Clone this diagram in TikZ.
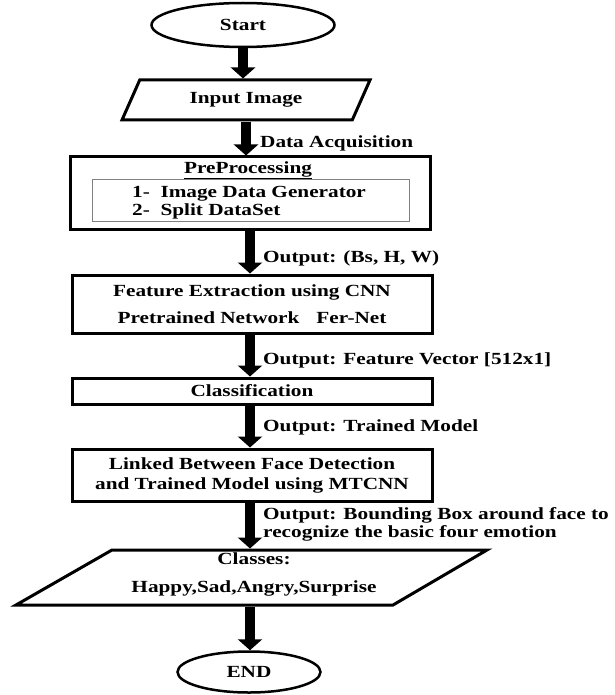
\documentclass[tikz,border=0pt]{standalone}
\usepackage{fontspec}
\setmainfont{Liberation Serif}[FakeStretch=1.25]
\usetikzlibrary{shapes.geometric,arrows.meta}

\tikzset{
  box/.style={draw, line width=3pt, rectangle, minimum width=360pt, inner sep=0pt, align=center},
  slanted/.style={draw, line width=3pt, trapezium, trapezium stretches body, inner sep=0pt, align=center},
  terminal/.style={draw, line width=2.5pt, ellipse, inner sep=0pt},
  flow/.style={line width=10pt, -{Triangle[width=24pt,length=11pt]}},
  note/.style={anchor=west, inner sep=0pt, align=left}
}

\begin{document}
\begin{tikzpicture}[x=1pt, y=-1pt, font=\fontsize{17}{20}\selectfont\bfseries]
  \useasboundingbox (0,0) rectangle (614,695);
  \node[terminal, minimum width=183pt, minimum height=44pt] (start) at (243,25) {Start};
  \node[slanted, trapezium left angle=40, trapezium right angle=140,
        minimum width=248pt, minimum height=40pt] (inp) at (246,100) {Input Image};
  \node[box, minimum height=72pt] (pre) at (250,193) {};
  \node[draw=gray, line width=0.8pt, minimum width=317pt, minimum height=42pt] (steps) at (250.5,200) {};
  \node[inner sep=0pt] (pretitle) at (248,170) {\underline{PreProcessing}};
  \node[note, font=\fontsize{17}{17.5}\selectfont\bfseries] (items) at (132,202.5)
    {1-\ \ Image Data Generator\\2-\ \ Split DataSet};
  \node[box, minimum height=58pt] (feat) at (252,304)
    {Feature Extraction using CNN\\[7pt]Pretrained Network\quad Fer-Net};
  \node[box, minimum height=26pt] (cls) at (252,391) {Classification};
  \node[box, minimum height=52pt] (link) at (252,475)
    {Linked Between Face Detection\\and Trained Model using MTCNN};
  % output classes, parallelogram
  \draw[line width=3pt, line join=miter] (112,550) -- (487,550) -- (393,605) -- (16,605) -- cycle;
  \coordinate (clstop) at (250,550);
  \coordinate (clsbot) at (250,605);
  \node[inner sep=0pt, align=center] (classes) at (254,574)
    {Classes:\\[8pt]Happy,Sad,Angry,Surprise};
  \node[terminal, minimum width=143pt, minimum height=41pt] (end) at (249,672) {END};

  \node[note] (acq) at (260,143) {Data Acquisition};
  \node[note] (outshape) at (263,258) {Output: (Bs, H, W)};
  \node[note] (outvec) at (263,360) {Output: Feature Vector [512x1]};
  \node[note] (outmodel) at (263,427) {Output: Trained Model};
  \node[note, font=\fontsize{17}{18}\selectfont\bfseries] (outbox) at (263,524)
    {Output: Bounding Box around face to\\recognize the basic four emotion};

  \draw[flow] (start.south) -- (start.south |- inp.north);
  \draw[flow] (inp.south) -- (inp.south |- pre.north);
  \draw[flow] (pre.south) -- (pre.south |- feat.north);
  \draw[flow] (pre.south |- feat.south) -- (pre.south |- cls.north);
  \draw[flow] (pre.south |- cls.south) -- (pre.south |- link.north);
  \draw[flow] (pre.south |- link.south) -- ([yshift=1.5pt]clstop);
  \draw[flow] ([yshift=-1.5pt]clsbot) -- (clsbot |- end.north);
\end{tikzpicture}
\end{document}
